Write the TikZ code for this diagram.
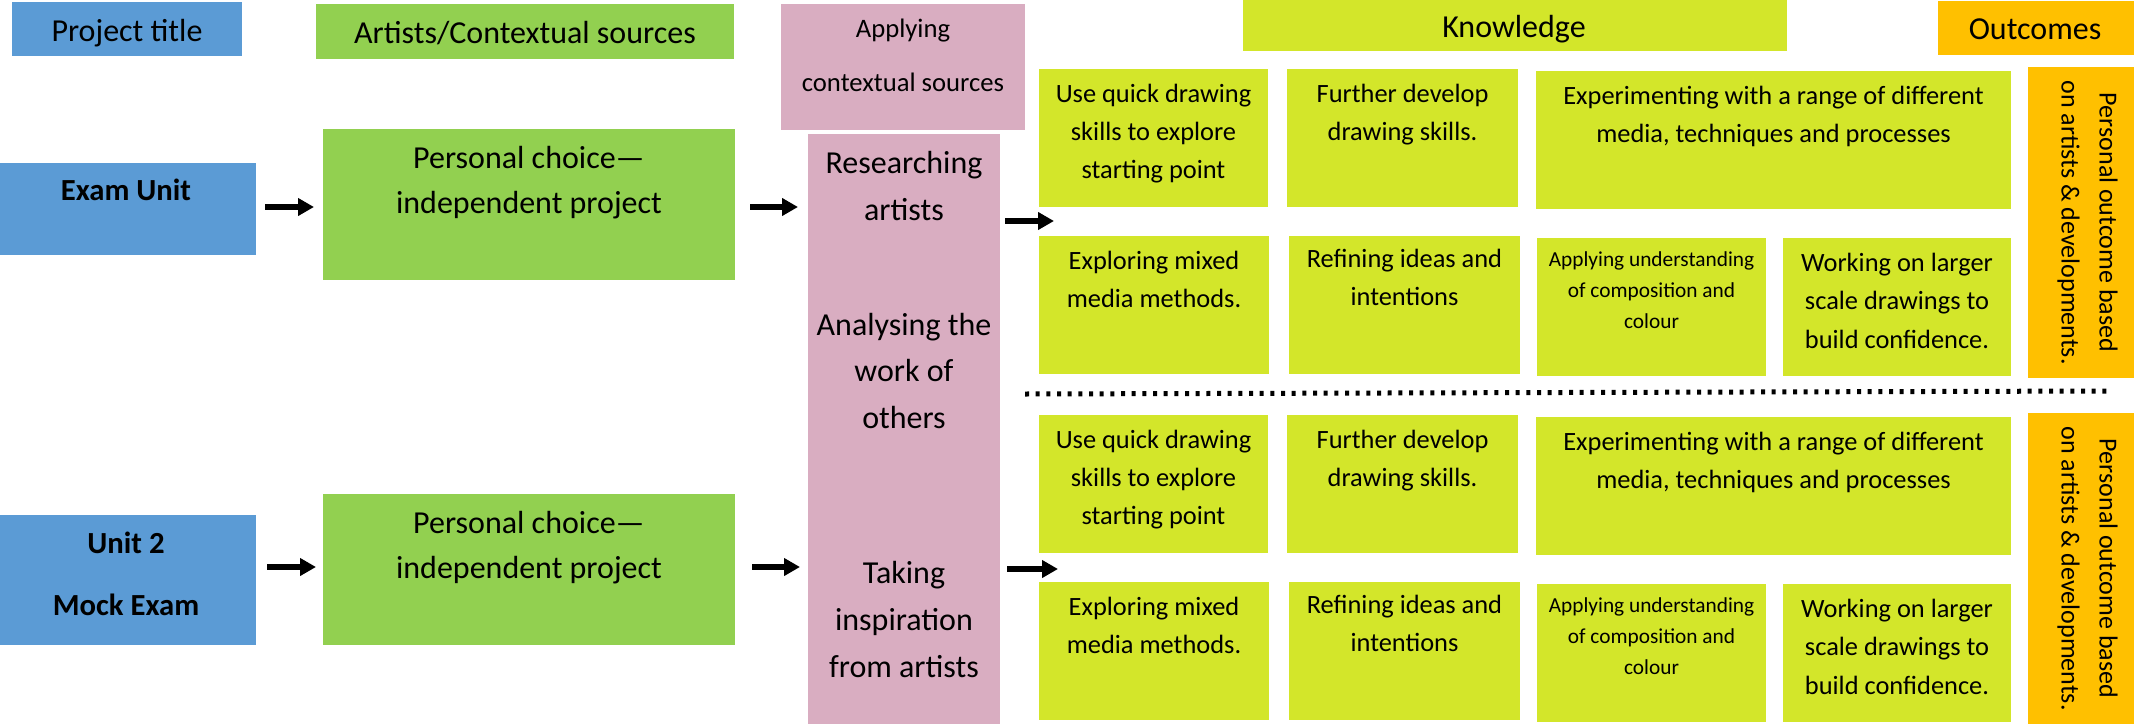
\documentclass[tikz,border=0pt]{standalone}
\usepackage{fontspec}
\setmainfont{Carlito}
\usetikzlibrary{arrows.meta,fit}
\definecolor{cblue}{HTML}{5B9BD5}
\definecolor{cgreen}{HTML}{92D050}
\definecolor{cpink}{HTML}{D9ADC1}
\definecolor{clime}{HTML}{D3E62A}
\definecolor{corange}{HTML}{FFC000}
\begin{document}
\begin{tikzpicture}[x=0.75pt,y=-0.75pt,
  bx/.style={inner sep=0pt,outer sep=0pt,draw=none},
  big/.style={font=\fontsize{24}{28}\selectfont,anchor=base,inner sep=0pt},
  bigb/.style={font=\fontsize{23}{28}\selectfont\bfseries,anchor=base,inner sep=0pt},
  mid/.style={font=\fontsize{20}{24}\selectfont,anchor=base,inner sep=0pt},
  kt/.style={font=\fontsize{19.8}{24}\selectfont,anchor=base,inner sep=0pt},
  st/.style={font=\fontsize{16}{20}\selectfont,anchor=base,inner sep=0pt},
  ot/.style={font=\fontsize{19.5}{28.5}\selectfont,rotate=-90,align=center,inner sep=0pt},
  arr/.style={line width=4.5pt,line cap=butt,-{Triangle[length=12pt,width=12.75pt]}},
  dots/.style={line width=3.75pt,dash pattern=on 3pt off 5pt}]
\useasboundingbox (0,0) rectangle (2134,725);
% headers
\node[bx,fill=cblue,fit={(12,2)(242,56)}] (ptitle) {};
\node[big] (ptt) at (127,41) {Project title};
\node[bx,fill=cgreen,fit={(316,4)(734,59)}] (artists) {};
\node[big] (art) at (525,43) {Artists/Contextual sources};
\node[bx,fill=cpink,fit={(781,4)(1025,130)}] (applying) {};
\node[mid] (ap1) at (903,37) {Applying};
\node[mid] (ap2) at (903,91) {contextual sources};
\node[bx,fill=clime,fit={(1243,0)(1787,51)}] (know) {};
\node[big] (knt) at (1514,37) {Knowledge};
\node[bx,fill=corange,fit={(1938,1)(2134,55)}] (outc) {};
\node[big] (oct) at (2035,39) {Outcomes};
% left column
\node[bx,fill=cblue,fit={(0,163)(256,255)}] (exam) {};
\node[bigb] (ex1) at (126,200) {Exam Unit};
\node[bx,fill=cblue,fit={(0,515)(256,645)}] (unit2) {};
\node[bigb] (u1) at (126,553) {Unit 2};
\node[bigb] (u2) at (126,615) {Mock Exam};
% personal choice
\node[bx,fill=cgreen,fit={(323,129)(735,280)}] (pc1) {};
\node[big] (pc1a) at (529,168) {Personal choice\textemdash};
\node[big] (pc1b) at (529,213) {independent project};
\node[bx,fill=cgreen,fit={(323,494)(735,645)}] (pc2) {};
\node[big] (pc2a) at (529,533) {Personal choice\textemdash};
\node[big] (pc2b) at (529,578) {independent project};
% pink column
\node[bx,fill=cpink,fit={(808,134)(1000,724)}] (pink) {};
\foreach \s/\y [count=\i] in {Researching/173,artists/220,Analysing the/335,work of/381,others/428,Taking/583,inspiration/630,from artists/677}
  \node[big] (pk\i) at (904,\y) {\s};
% knowledge boxes (two sets)
\foreach \d/\n in {0/a,346/b}{
  \node[bx,fill=clime,fit={(1039,69+\d)(1268,207+\d)}] (k1\n) {};
  \node[bx,fill=clime,fit={(1287,69+\d)(1518,207+\d)}] (k2\n) {};
  \node[bx,fill=clime,fit={(1536,71+\d)(2011,209+\d)}] (k3\n) {};
  \node[bx,fill=clime,fit={(1039,236+\d)(1269,374+\d)}] (k4\n) {};
  \node[bx,fill=clime,fit={(1289,236+\d)(1520,374+\d)}] (k5\n) {};
  \node[bx,fill=clime,fit={(1537,238+\d)(1766,376+\d)}] (k6\n) {};
  \node[bx,fill=clime,fit={(1783,238+\d)(2011,376+\d)}] (k7\n) {};
  \node[bx,fill=corange,fit={(2028,67+\d)(2134,378+\d)}] (o\n) {};
  \node[kt] (k1\n1) at (1153.5,102+\d) {Use quick drawing};
  \node[kt] (k1\n2) at (1153.5,140+\d) {skills to explore};
  \node[kt] (k1\n3) at (1153.5,178+\d) {starting point};
  \node[kt] (k2\n1) at (1402.5,102+\d) {Further develop};
  \node[kt] (k2\n2) at (1402.5,140+\d) {drawing skills.};
  \node[kt] (k3\n1) at (1773.5,104+\d) {Experimenting with a range of different};
  \node[kt] (k3\n2) at (1773.5,142+\d) {media, techniques and processes};
  \node[kt] (k4\n1) at (1154,269+\d) {Exploring mixed};
  \node[kt] (k4\n2) at (1154,307+\d) {media methods.};
  \node[kt] (k5\n1) at (1404.5,267+\d) {Refining ideas and};
  \node[kt] (k5\n2) at (1404.5,305+\d) {intentions};
  \node[st] (k6\n1) at (1651.5,266+\d) {Applying understanding};
  \node[st] (k6\n2) at (1651.5,297+\d) {of composition and};
  \node[st] (k6\n3) at (1651.5,328+\d) {colour};
  \node[kt] (k7\n1) at (1897,271+\d) {Working on larger};
  \node[kt] (k7\n2) at (1897,309+\d) {scale drawings to};
  \node[kt] (k7\n3) at (1897,348+\d) {build confidence.};
  \node[ot] (ot\n) at (2087.5,222.5+\d) {Personal outcome based\\on artists \& developments.};
}
% arrows
\draw[arr] ([shift={(9,-2)}]exam.east) -- ([shift={(-9,-2)}]exam.east -| pc1.west);
\draw[arr] ([shift={(15,2.5)}]pc1.east) -- ([shift={(-10,2.5)}]pc1.east -| pink.west);
\draw[arr] ([shift={(5,14)}]pink.east |- k1a.south) -- ([shift={(15,14)}]k1a.south west);
\draw[arr] ([shift={(11,-13)}]unit2.east) -- ([shift={(-7,-13)}]unit2.east -| pc2.west);
\draw[arr] ([shift={(17,-2.5)}]pc2.east) -- ([shift={(-8,-2.5)}]pc2.east -| pink.west);
\draw[arr] ([shift={(7,16)}]pink.east |- k1b.south) -- ([shift={(19,16)}]k1b.south west);
% dotted separator
\coordinate (dl) at (1025,394);
\coordinate (dr) at (2107,391);
\draw[dots] (dl) -- (dr);
\end{tikzpicture}
\end{document}
